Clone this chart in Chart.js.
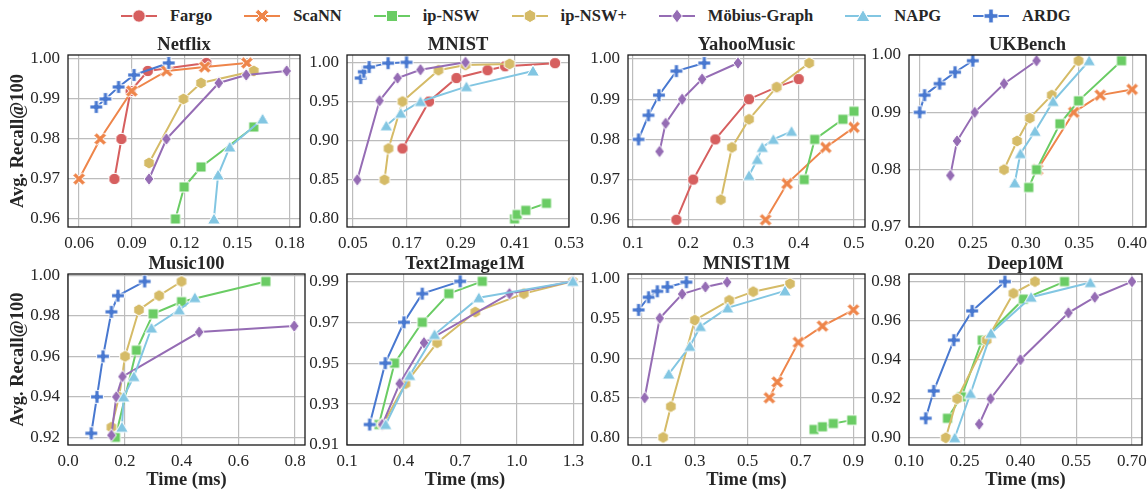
<!DOCTYPE html>
<html><head><meta charset="utf-8">
<script src="https://cdn.jsdelivr.net/npm/chart.js@4.4.1/dist/chart.umd.min.js"></script>
<style>
html,body{margin:0;padding:0;width:1148px;height:493px;overflow:hidden;background:#fff;}
body>canvas{position:absolute;}
#legend{position:absolute;left:121px;top:5px;height:22px;display:flex;align-items:center;font:bold 16.5px "Liberation Serif",serif;color:#262626;white-space:nowrap;}
.item{display:flex;align-items:center;margin-right:32px;}
.item canvas{margin-right:13px;display:block;}
</style></head><body>
<div id="legend"></div>
<script>
// ---------- methods ----------
const methods = ['Fargo','ScaNN','ip-NSW','ip-NSW+','Möbius-Graph','NAPG','ARDG'];
const colors  = ['#d65f5f','#ee854a','#6acc64','#d5bb67','#956cb4','#82c6e2','#4878d0'];
const shapes  = ['circle','x','square','hexagon','diamond','triangle','plus'];

// ---------- tick labels ----------
const netflixXTicks = ['0.06','0.09','0.12','0.15','0.18'];
const netflixYTicks = ['0.96','0.97','0.98','0.99','1.00'];
const mnistXTicks = ['0.05','0.17','0.29','0.41','0.53'];
const mnistYTicks = ['0.80','0.85','0.90','0.95','1.00'];
const yahooXTicks = ['0.1','0.2','0.3','0.4','0.5'];
const yahooYTicks = ['0.96','0.97','0.98','0.99','1.00'];
const ukbenchXTicks = ['0.20','0.25','0.30','0.35','0.40'];
const ukbenchYTicks = ['0.97','0.98','0.99','1.00'];
const music100XTicks = ['0.0','0.2','0.4','0.6','0.8'];
const music100YTicks = ['0.92','0.94','0.96','0.98','1.00'];
const t2iXTicks = ['0.1','0.4','0.7','1.0','1.3'];
const t2iYTicks = ['0.91','0.93','0.95','0.97','0.99'];
const mnist1mXTicks = ['0.1','0.3','0.5','0.7','0.9'];
const mnist1mYTicks = ['0.80','0.85','0.90','0.95','1.00'];
const deepXTicks = ['0.10','0.25','0.40','0.55','0.70'];
const deepYTicks = ['0.90','0.92','0.94','0.96','0.98'];

// ---------- series: [time (ms), recall] ----------
// Netflix
const netflixFargo  = [[0.0801,0.970],[0.0841,0.980],[0.0893,0.992],[0.0991,0.997],[0.1324,0.999]];
const netflixScaNN  = [[0.060,0.970],[0.072,0.980],[0.090,0.992],[0.1098,0.997],[0.1315,0.998],[0.1555,0.999]];
const netflixIpNSW  = [[0.1148,0.960],[0.1198,0.968],[0.1294,0.973],[0.1594,0.983]];
const netflixIpNSWp = [[0.0998,0.974],[0.1194,0.990],[0.1294,0.994],[0.1594,0.997]];
const netflixMobius = [[0.0998,0.970],[0.1097,0.980],[0.1395,0.994],[0.1551,0.996],[0.1781,0.997]];
const netflixNAPG   = [[0.1367,0.960],[0.1391,0.971],[0.1457,0.978],[0.1644,0.985]];
const netflixARDG   = [[0.0698,0.988],[0.0750,0.990],[0.0825,0.993],[0.0913,0.996],[0.1110,0.999]];
// MNIST
const mnistFargo  = [[0.160,0.890],[0.219,0.950],[0.280,0.980],[0.349,0.990],[0.388,0.995],[0.499,0.999]];
const mnistIpNSW  = [[0.409,0.800],[0.415,0.8056],[0.434,0.811],[0.480,0.820]];
const mnistIpNSWp = [[0.120,0.850],[0.129,0.890],[0.160,0.950],[0.240,0.990],[0.300,0.9966],[0.398,0.998]];
const mnistMobius = [[0.0596,0.850],[0.109,0.951],[0.149,0.980],[0.200,0.9906],[0.300,1.000]];
const mnistNAPG   = [[0.124,0.919],[0.156,0.935],[0.200,0.950],[0.302,0.969],[0.450,0.989]];
const mnistARDG   = [[0.067,0.980],[0.074,0.988],[0.086,0.994],[0.128,0.999],[0.169,1.000]];
// YahooMusic
const yahooFargo  = [[0.1785,0.960],[0.209,0.970],[0.249,0.980],[0.310,0.990],[0.360,0.993],[0.400,0.995]];
const yahooScaNN  = [[0.340,0.960],[0.379,0.969],[0.449,0.978],[0.500,0.983]];
const yahooIpNSW  = [[0.410,0.970],[0.429,0.980],[0.480,0.985],[0.500,0.987]];
const yahooIpNSWp = [[0.259,0.965],[0.279,0.978],[0.310,0.985],[0.360,0.993],[0.419,0.999]];
const yahooMobius = [[0.148,0.977],[0.159,0.984],[0.189,0.990],[0.225,0.995],[0.290,0.999]];
const yahooNAPG   = [[0.310,0.971],[0.325,0.975],[0.334,0.978],[0.354,0.980],[0.387,0.982]];
const yahooARDG   = [[0.110,0.980],[0.128,0.986],[0.147,0.991],[0.1785,0.997],[0.229,0.999]];
// UKBench
const ukbenchScaNN  = [[0.311,0.980],[0.345,0.990],[0.370,0.993],[0.400,0.994]];
const ukbenchIpNSW  = [[0.3027,0.9769],[0.310,0.980],[0.332,0.988],[0.3495,0.992],[0.390,0.999]];
const ukbenchIpNSWp = [[0.2794,0.980],[0.2917,0.985],[0.3036,0.989],[0.3243,0.993],[0.3495,0.999]];
const ukbenchMobius = [[0.2289,0.979],[0.2352,0.985],[0.2518,0.990],[0.2794,0.995],[0.310,0.999]];
const ukbenchNAPG   = [[0.2895,0.9777],[0.2948,0.9828],[0.3086,0.9867],[0.3256,0.9919],[0.3595,0.999]];
const ukbenchARDG   = [[0.200,0.990],[0.2047,0.993],[0.2188,0.995],[0.2333,0.997],[0.250,0.999]];
// Music100
const music100IpNSW  = [[0.167,0.920],[0.241,0.963],[0.300,0.981],[0.400,0.987],[0.697,0.997]];
const music100IpNSWp = [[0.153,0.925],[0.180,0.940],[0.201,0.960],[0.250,0.983],[0.321,0.990],[0.400,0.997]];
const music100Mobius = [[0.153,0.921],[0.170,0.940],[0.192,0.950],[0.462,0.972],[0.797,0.975]];
const music100NAPG   = [[0.190,0.925],[0.196,0.940],[0.232,0.950],[0.294,0.974],[0.392,0.983],[0.447,0.989]];
const music100ARDG   = [[0.082,0.922],[0.102,0.940],[0.1235,0.960],[0.153,0.982],[0.176,0.990],[0.270,0.997]];
// Text2Image1M
const t2iIpNSW  = [[0.269,0.920],[0.352,0.950],[0.499,0.970],[0.640,0.984],[0.817,0.990]];
const t2iIpNSWp = [[0.290,0.920],[0.410,0.940],[0.578,0.960],[0.780,0.975],[1.037,0.984],[1.297,0.990]];
const t2iMobius = [[0.287,0.920],[0.379,0.940],[0.508,0.960],[0.961,0.984],[1.297,0.990]];
const t2iNAPG   = [[0.305,0.920],[0.432,0.944],[0.564,0.964],[0.799,0.982],[1.297,0.990]];
const t2iARDG   = [[0.220,0.920],[0.303,0.950],[0.402,0.970],[0.499,0.984],[0.700,0.990]];
// MNIST1M
const mnist1mScaNN  = [[0.582,0.850],[0.612,0.870],[0.692,0.920],[0.783,0.9405],[0.900,0.961]];
const mnist1mIpNSW  = [[0.751,0.810],[0.783,0.8134],[0.824,0.8176],[0.894,0.8218]];
const mnist1mIpNSWp = [[0.180,0.800],[0.209,0.839],[0.300,0.948],[0.430,0.973],[0.521,0.984],[0.660,0.994]];
const mnist1mMobius = [[0.110,0.850],[0.167,0.9505],[0.252,0.981],[0.340,0.990],[0.422,0.996]];
const mnist1mNAPG   = [[0.201,0.880],[0.281,0.915],[0.321,0.940],[0.424,0.9635],[0.641,0.985]];
const mnist1mARDG   = [[0.087,0.961],[0.125,0.977],[0.158,0.9845],[0.196,0.990],[0.268,0.996]];
// Deep10M
const deepIpNSW  = [[0.2035,0.910],[0.241,0.921],[0.297,0.950],[0.408,0.971],[0.5185,0.980]];
const deepIpNSWp = [[0.199,0.900],[0.2296,0.920],[0.309,0.950],[0.381,0.974],[0.439,0.980]];
const deepMobius = [[0.289,0.907],[0.3196,0.920],[0.400,0.940],[0.529,0.964],[0.600,0.972],[0.700,0.980]];
const deepNAPG   = [[0.223,0.900],[0.2656,0.9227],[0.3205,0.9535],[0.4285,0.972],[0.588,0.9795]];
const deepARDG   = [[0.145,0.910],[0.1666,0.924],[0.2206,0.950],[0.270,0.965],[0.358,0.980]];

// ---------- panels (order of series follows `methods`) ----------
const panels = [
  {title:'Netflix', rect:[68,55,300,227], row:0, col:0, xr:[0.0537,0.1857], yr:[0.958,1.001], xt:netflixXTicks, yt:netflixYTicks,
   series:[netflixFargo,netflixScaNN,netflixIpNSW,netflixIpNSWp,netflixMobius,netflixNAPG,netflixARDG]},
  {title:'MNIST', rect:[347,55,569,227], row:0, col:1, xr:[0.0367,0.530], yr:[0.7897,1.0094], xt:mnistXTicks, yt:mnistYTicks,
   series:[mnistFargo,null,mnistIpNSW,mnistIpNSWp,mnistMobius,mnistNAPG,mnistARDG]},
  {title:'YahooMusic', rect:[628,55,865,227], row:0, col:2, xr:[0.0909,0.520], yr:[0.9582,1.001], xt:yahooXTicks, yt:yahooYTicks,
   series:[yahooFargo,yahooScaNN,yahooIpNSW,yahooIpNSWp,yahooMobius,yahooNAPG,yahooARDG]},
  {title:'UKBench', rect:[909,55,1146,227], row:0, col:3, xr:[0.19,0.413], yr:[0.97,1.0], xt:ukbenchXTicks, yt:ukbenchYTicks,
   series:[null,ukbenchScaNN,ukbenchIpNSW,ukbenchIpNSWp,ukbenchMobius,ukbenchNAPG,ukbenchARDG]},
  {title:'Music100', rect:[68,274,305,445], row:1, col:0, xr:[0,0.835], yr:[0.9162,1.0007], xt:music100XTicks, yt:music100YTicks,
   series:[null,null,music100IpNSW,music100IpNSWp,music100Mobius,music100NAPG,music100ARDG]},
  {title:'Text2Image1M', rect:[347,274,583,445], row:1, col:1, xr:[0.1,1.351], yr:[0.91,0.9936], xt:t2iXTicks, yt:t2iYTicks,
   series:[null,null,t2iIpNSW,t2iIpNSWp,t2iMobius,t2iNAPG,t2iARDG]},
  {title:'MNIST1M', rect:[628,274,865,445], row:1, col:2, xr:[0.0469,0.944], yr:[0.7904,1.0063], xt:mnist1mXTicks, yt:mnist1mYTicks,
   series:[null,mnist1mScaNN,mnist1mIpNSW,mnist1mIpNSWp,mnist1mMobius,mnist1mNAPG,mnist1mARDG]},
  {title:'Deep10M', rect:[909,274,1142,445], row:1, col:3, xr:[0.1,0.727], yr:[0.8963,0.9839], xt:deepXTicks, yt:deepYTicks,
   series:[null,null,deepIpNSW,deepIpNSWp,deepMobius,deepNAPG,deepARDG]},
];

// ---------- styling ----------
const SERIF = "'Liberation Serif','DejaVu Serif',serif";
const TXT = '#262626';
const GRID = '#bcbcbc';

function shapePath(g, shape, k) {
  k = k || 1;
  g.beginPath();
  const poly = pts => { pts.forEach(([x,y],i)=> i? g.lineTo(x*k,y*k) : g.moveTo(x*k,y*k)); g.closePath(); };
  const plus = (a,t,rot) => {
    const base = [[-t,-a],[t,-a],[t,-t],[a,-t],[a,t],[t,t],[t,a],[-t,a],[-t,t],[-a,t],[-a,-t],[-t,-t]];
    const c = Math.cos(rot), s = Math.sin(rot);
    poly(base.map(([x,y])=>[x*c-y*s, x*s+y*c]));
  };
  switch (shape) {
    case 'circle': g.arc(0,0,5.2*k,0,Math.PI*2); break;
    case 'x': plus(6.2,1.8,Math.PI/4); break;
    case 'plus': plus(5.8,1.9,0); break;
    case 'square': poly([[-4.6,-4.6],[4.6,-4.6],[4.6,4.6],[-4.6,4.6]]); break;
    case 'hexagon': { const p=[]; for(let i=0;i<6;i++){const a=-Math.PI/2+i*Math.PI/3; p.push([5.5*Math.cos(a),5.5*Math.sin(a)]);} poly(p); break; }
    case 'diamond': poly([[0,-5.8],[4.4,0],[0,5.8],[-4.4,0]]); break;
    case 'triangle': poly([[0,-5.4],[5.8,4.6],[-5.8,4.6]]); break;
  }
}
function makeMarker(shape, color, k) {
  const s = 20, c = document.createElement('canvas');
  c.width = s; c.height = s;
  const g = c.getContext('2d');
  g.translate(s/2, s/2);
  shapePath(g, shape, k);
  g.fillStyle = color; g.fill();
  g.strokeStyle = '#ffffff'; g.lineWidth = 1; g.lineJoin = 'miter'; g.stroke();
  return c;
}
const markerImgs = shapes.map((s,i)=>makeMarker(s, colors[i], 1.1));

// ---------- legend ----------
const legendEl = document.getElementById('legend');
methods.forEach((m,i)=>{
  const it = document.createElement('div'); it.className='item';
  const c = document.createElement('canvas'); c.width=36; c.height=20;
  const g = c.getContext('2d');
  g.strokeStyle = colors[i]; g.lineWidth = 2; g.beginPath(); g.moveTo(0,10); g.lineTo(36,10); g.stroke();
  g.save(); g.translate(18,10); shapePath(g, shapes[i], 1.2); g.fillStyle=colors[i]; g.fill(); g.strokeStyle='#fff'; g.lineWidth=1; g.stroke(); g.restore();
  const sp = document.createElement('span'); sp.textContent = m;
  it.appendChild(c); it.appendChild(sp); legendEl.appendChild(it);
});

// ---------- frame plugin ----------
const frame = {
  id: 'frame',
  afterDatasetsDraw(chart) {
    const {ctx, chartArea: a} = chart;
    ctx.save(); ctx.strokeStyle = '#1a1a1a'; ctx.lineWidth = 1.3;
    ctx.strokeRect(a.left, a.top, a.right - a.left, a.bottom - a.top);
    ctx.restore();
  }
};

// ---------- charts ----------
const YW = 68, PR = 24, PT = 7, TH = 19;
panels.forEach(p => {
  const [l,t,r,b] = p.rect;
  const H = p.row === 0 ? 30 : 48;
  const cw = (r - l) + YW + PR, ch = PT + TH + (b - t) + H;
  const cv = document.createElement('canvas');
  cv.width = cw; cv.height = ch;
  cv.style.left = (l - YW) + 'px'; cv.style.top = (t - PT - TH) + 'px';
  cv.style.width = cw + 'px'; cv.style.height = ch + 'px';
  document.body.appendChild(cv);
  const datasets = [];
  p.series.forEach((s, i) => {
    if (!s) return;
    datasets.push({
      label: methods[i], data: s.map(([x,y]) => ({x, y})),
      borderColor: colors[i], backgroundColor: colors[i], borderWidth: 2,
      pointStyle: markerImgs[i], pointRadius: 5, pointHoverRadius: 5,
      showLine: true, tension: 0, order: 6 - i
    });
  });
  const xVals = p.xt.map(Number), yVals = p.yt.map(Number);
  new Chart(cv, {
    type: 'scatter',
    data: { datasets },
    options: {
      responsive: false, animation: false, devicePixelRatio: 1, events: [],
      layout: { padding: { left: 0, right: PR, top: PT, bottom: 0 } },
      plugins: {
        legend: { display: false }, tooltip: { enabled: false },
        title: { display: true, text: p.title, fullSize: false, color: TXT, padding: 0,
                 font: { family: SERIF, size: 18.5, weight: 'bold', lineHeight: TH + 'px' } }
      },
      scales: {
        x: {
          type: 'linear', min: p.xr[0], max: p.xr[1],
          afterBuildTicks: s => { s.ticks = xVals.map(v => ({ value: v })); },
          afterFit: s => { s.height = H; },
          grid: { color: GRID, lineWidth: 1.2, drawTicks: false },
          border: { display: false },
          ticks: { autoSkip: false, maxRotation: 0, padding: 6, color: TXT,
                   font: { family: SERIF, size: 17 }, callback: (v, i) => p.xt[i] },
          title: { display: p.row === 1, text: 'Time (ms)', color: TXT, padding: { top: 0, bottom: 2 },
                   font: { family: SERIF, size: 18.5, weight: 'bold', lineHeight: '22px' } }
        },
        y: {
          type: 'linear', min: p.yr[0], max: p.yr[1],
          afterBuildTicks: s => { s.ticks = yVals.map(v => ({ value: v })); },
          afterFit: s => { s.width = YW; },
          grid: { color: GRID, lineWidth: 1.2, drawTicks: false },
          border: { display: false },
          ticks: { autoSkip: false, padding: 8, color: TXT,
                   font: { family: SERIF, size: 17 }, callback: (v, i) => p.yt[i] },
          title: { display: p.col === 0, text: 'Avg. Recall@100', color: TXT, padding: { top: 7, bottom: 0 },
                   font: { family: SERIF, size: 18.5, weight: 'bold', lineHeight: '22px' } }
        }
      }
    },
    plugins: [frame]
  });
});
</script>
</body></html>
